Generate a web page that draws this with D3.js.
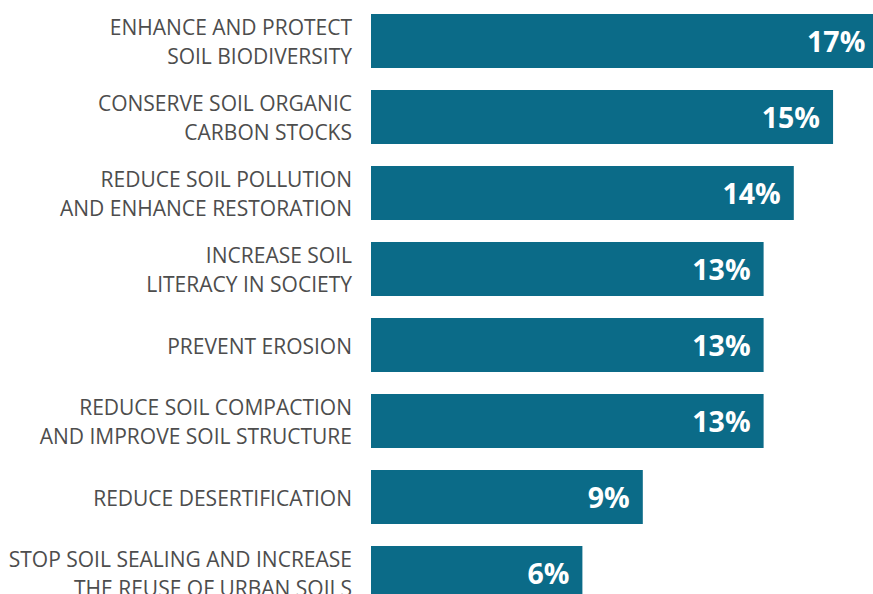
<!DOCTYPE html>
<html>
<head>
<meta charset="utf-8">
<script src="https://cdn.jsdelivr.net/npm/d3@7"></script>
<style>
  body { margin: 0; background: #fff; }
  svg { display: block; }
</style>
</head>
<body>
<div id="chart"></div>
<script>
// soil targets: share of answers per objective
const categories = [
  ["ENHANCE AND PROTECT", "SOIL BIODIVERSITY"],
  ["CONSERVE SOIL ORGANIC", "CARBON STOCKS"],
  ["REDUCE SOIL POLLUTION", "AND ENHANCE RESTORATION"],
  ["INCREASE SOIL", "LITERACY IN SOCIETY"],
  ["PREVENT EROSION"],
  ["REDUCE SOIL COMPACTION", "AND IMPROVE SOIL STRUCTURE"],
  ["REDUCE DESERTIFICATION"],
  ["STOP SOIL SEALING AND INCREASE", "THE REUSE OF URBAN SOILS"]
];
const values = [16.8, 15.3, 14.0, 13.0, 13.0, 13.0, 9.0, 7.0];
const valueLabels = ["17%", "15%", "14%", "13%", "13%", "13%", "9%", "6%"];

const width = 873, height = 594;
const barColour = "#0b6b88";

const svg = d3.select("#chart").append("svg")
  .attr("width", width).attr("height", height);

const x = d3.scaleLinear().domain([0, 17]).range([371, 371 + 17 * 30.2]);
// step 76px, bar 54px
const y = d3.scaleBand().domain(d3.range(categories.length))
  .range([14, 14 + 76 * categories.length - 22]).paddingInner(22 / 76).paddingOuter(0);

const rows = categories.map((c, i) => ({ lines: c, v: values[i], label: valueLabels[i], i }));

svg.selectAll("rect.bar").data(rows).enter().append("rect")
  .attr("class", "bar")
  .attr("x", x(0)).attr("y", d => y(d.i))
  .attr("width", d => x(d.v) - x(0)).attr("height", y.bandwidth())
  .attr("fill", barColour);

svg.selectAll("text.val").data(rows).enter().append("text")
  .attr("class", "val")
  .attr("x", d => x(d.v) - 13)
  .attr("y", d => y(d.i) + y.bandwidth() / 2 + 10.5)
  .attr("text-anchor", "end")
  .attr("fill", "#fff")
  .style("font-family", "'Open Sans', sans-serif")
  .style("font-weight", "700")
  .style("font-size", "28.5px")
  .text(d => d.label);

const lab = svg.selectAll("text.cat").data(rows).enter().append("text")
  .attr("class", "cat")
  .attr("text-anchor", "end")
  .attr("fill", "#4d4d4d")
  .style("font-family", "'Open Sans', sans-serif")
  .style("font-size", "21px");

lab.selectAll("tspan").data(d => d.lines.map((t, k) => ({ t, k, n: d.lines.length, i: d.i })))
  .enter().append("tspan")
  .attr("x", 352)
  .attr("y", d => y(d.i) + y.bandwidth() / 2 + 8.5 + (d.k - (d.n - 1) / 2) * 28.5)
  .text(d => d.t);
</script>
</body>
</html>
